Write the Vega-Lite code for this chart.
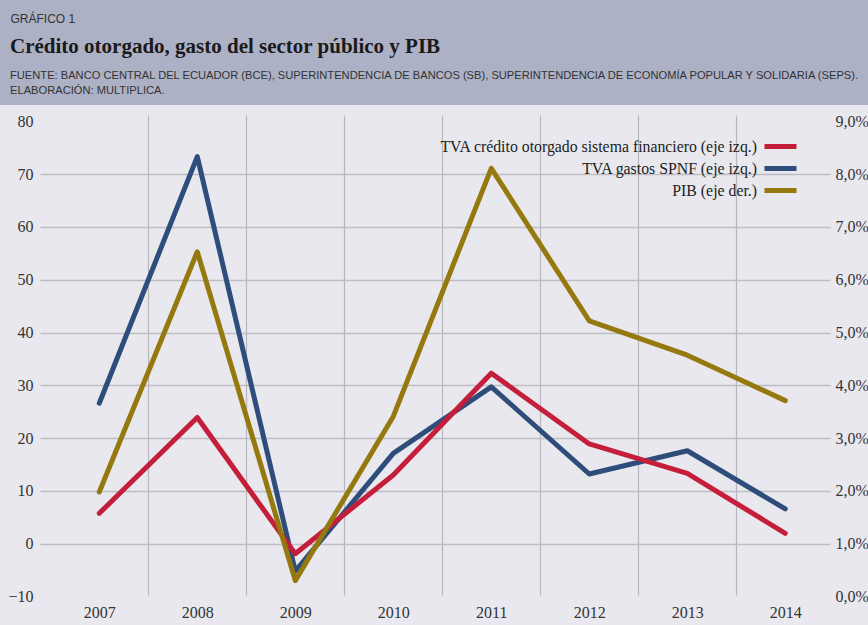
{
  "$schema": "https://vega.github.io/schema/vega-lite/v6.json",
  "autosize": {"type": "none"},
  "padding": {"top": 105, "left": 0, "right": 0, "bottom": 0},
  "width": 868,
  "height": 520,
  "background": "#adb1c5",
  "config": {
    "view": {"fill": "#e8e8ee", "stroke": null},
    "font": "Liberation Serif"
  },
  "title": {
    "text": "Crédito otorgado, gasto del sector público y PIB",
    "subtitle": ["FUENTE: BANCO CENTRAL DEL ECUADOR (BCE), SUPERINTENDENCIA DE BANCOS (SB), SUPERINTENDENCIA DE ECONOMÍA POPULAR Y SOLIDARIA (SEPS).", "ELABORACIÓN: MULTIPLICA."],
    "anchor": "start",
    "frame": "group",
    "dx": 10,
    "offset": -84,
    "font": "Liberation Serif",
    "fontSize": 21,
    "fontWeight": "bold",
    "color": "#1a1a1a",
    "subtitleFont": "Liberation Sans",
    "subtitleFontSize": 11.15,
    "subtitleColor": "#333333",
    "subtitlePadding": 13,
    "subtitleLineHeight": 15
  },
  "datasets": {
    "izq": [
      {"year": 2007, "series": "TVA gastos SPNF (eje izq.)", "value": 26.6},
      {"year": 2008, "series": "TVA gastos SPNF (eje izq.)", "value": 73.3},
      {"year": 2009, "series": "TVA gastos SPNF (eje izq.)", "value": -5.2},
      {"year": 2010, "series": "TVA gastos SPNF (eje izq.)", "value": 17.1},
      {"year": 2011, "series": "TVA gastos SPNF (eje izq.)", "value": 29.7},
      {"year": 2012, "series": "TVA gastos SPNF (eje izq.)", "value": 13.2},
      {"year": 2013, "series": "TVA gastos SPNF (eje izq.)", "value": 17.6},
      {"year": 2014, "series": "TVA gastos SPNF (eje izq.)", "value": 6.6},
      {"year": 2007, "series": "TVA crédito otorgado sistema financiero (eje izq.)", "value": 5.75},
      {"year": 2008, "series": "TVA crédito otorgado sistema financiero (eje izq.)", "value": 23.9},
      {"year": 2009, "series": "TVA crédito otorgado sistema financiero (eje izq.)", "value": -1.9},
      {"year": 2010, "series": "TVA crédito otorgado sistema financiero (eje izq.)", "value": 13.0},
      {"year": 2011, "series": "TVA crédito otorgado sistema financiero (eje izq.)", "value": 32.3},
      {"year": 2012, "series": "TVA crédito otorgado sistema financiero (eje izq.)", "value": 18.9},
      {"year": 2013, "series": "TVA crédito otorgado sistema financiero (eje izq.)", "value": 13.3},
      {"year": 2014, "series": "TVA crédito otorgado sistema financiero (eje izq.)", "value": 1.97}
    ],
    "der": [
      {"year": 2007, "series": "PIB (eje der.)", "pib": 1.98},
      {"year": 2008, "series": "PIB (eje der.)", "pib": 6.53},
      {"year": 2009, "series": "PIB (eje der.)", "pib": 0.3},
      {"year": 2010, "series": "PIB (eje der.)", "pib": 3.41},
      {"year": 2011, "series": "PIB (eje der.)", "pib": 8.11},
      {"year": 2012, "series": "PIB (eje der.)", "pib": 5.22},
      {"year": 2013, "series": "PIB (eje der.)", "pib": 4.57},
      {"year": 2014, "series": "PIB (eje der.)", "pib": 3.71}
    ]
  },
  "encoding": {
    "x": {
      "field": "year",
      "type": "quantitative",
      "scale": {"domain": [2005.987, 2014.844], "nice": false, "zero": false},
      "axis": {
        "title": null,
        "orient": "bottom",
        "offset": -30,
        "domain": false,
        "grid": false,
        "values": [2007, 2007.5, 2008, 2008.5, 2009, 2009.5, 2010, 2010.5, 2011, 2011.5, 2012, 2012.5, 2013, 2013.5, 2014],
        "tickSize": -480,
        "tickWidth": 1.2,
        "tickColor": "#b6b6bc",
        "tickOpacity": {"condition": {"test": "datum.value % 1 == 0", "value": 0}, "value": 1},
        "labelExpr": "datum.value % 1 == 0 ? format(datum.value, 'd') : ''",
        "labelPadding": 489,
        "labelOverlap": false,
        "labelFlush": false,
        "labelFont": "Liberation Serif",
        "labelFontSize": 16,
        "labelColor": "#333333"
      }
    }
  },
  "layer": [
    {
      "data": {"name": "izq"},
      "mark": {"type": "line", "strokeWidth": 5, "strokeCap": "round", "strokeJoin": "round"},
      "encoding": {
        "y": {
          "field": "value",
          "type": "quantitative",
          "scale": {"domain": [-15.40, 83.09], "nice": false, "zero": false},
          "axis": {
            "orient": "left",
            "offset": -40,
            "domain": false,
            "grid": false,
            "values": [-10, 0, 10, 20, 30, 40, 50, 60, 70, 80],
            "format": "d",
            "tickSize": -790,
            "tickWidth": 1.4,
            "tickColor": "#bdbdc3",
            "tickOpacity": {"condition": {"test": "datum.value < 0 || datum.value > 75", "value": 0}, "value": 1},
            "labelPadding": 797,
            "labelFont": "Liberation Serif",
            "labelFontSize": 16,
            "labelColor": "#333333",
            "title": "GRÁFICO 1",
            "titleAngle": 0,
            "titleX": -30,
            "titleY": -87,
            "titleAlign": "left",
            "titleBaseline": "middle",
            "titleFont": "Liberation Sans",
            "titleFontSize": 12,
            "titleFontWeight": "normal",
            "titleColor": "#333333"
          }
        },
        "color": {
          "field": "series",
          "type": "nominal",
          "scale": {
            "domain": ["TVA crédito otorgado sistema financiero (eje izq.)", "TVA gastos SPNF (eje izq.)", "PIB (eje der.)"],
            "range": ["#c41e3a", "#2e4d7b", "#95790e"]
          },
          "legend": {
            "title": null,
            "orient": "none",
            "legendX": 769,
            "legendY": 30,
            "padding": 0,
            "symbolType": "M-1.78,0H1.78",
            "symbolSize": 324,
            "symbolStrokeWidth": 5,
            "symbolFillColor": "transparent",
            "labelAlign": "right",
            "labelOffset": -35,
            "labelLimit": 500,
            "labelFont": "Liberation Serif",
            "labelFontSize": 15.8,
            "labelColor": "#222222",
            "rowPadding": 0
          }
        }
      }
    },
    {
      "data": {"name": "der"},
      "mark": {"type": "line", "strokeWidth": 5, "strokeCap": "round", "strokeJoin": "round"},
      "encoding": {
        "y": {
          "field": "pib",
          "type": "quantitative",
          "scale": {"domain": [-0.540, 9.309], "nice": false, "zero": false},
          "axis": {
            "orient": "right",
            "offset": -36,
            "domain": false,
            "grid": false,
            "ticks": false,
            "values": [0, 1, 2, 3, 4, 5, 6, 7, 8, 9],
            "labelExpr": "replace(format(datum.value, '.1f'), '.', ',') + '%'",
            "labelAlign": "left",
            "labelPadding": 3,
            "labelFont": "Liberation Serif",
            "labelFontSize": 16,
            "labelColor": "#333333",
            "title": null
          }
        },
        "color": {"field": "series", "type": "nominal"}
      }
    }
  ],
  "resolve": {"scale": {"y": "independent"}}
}
